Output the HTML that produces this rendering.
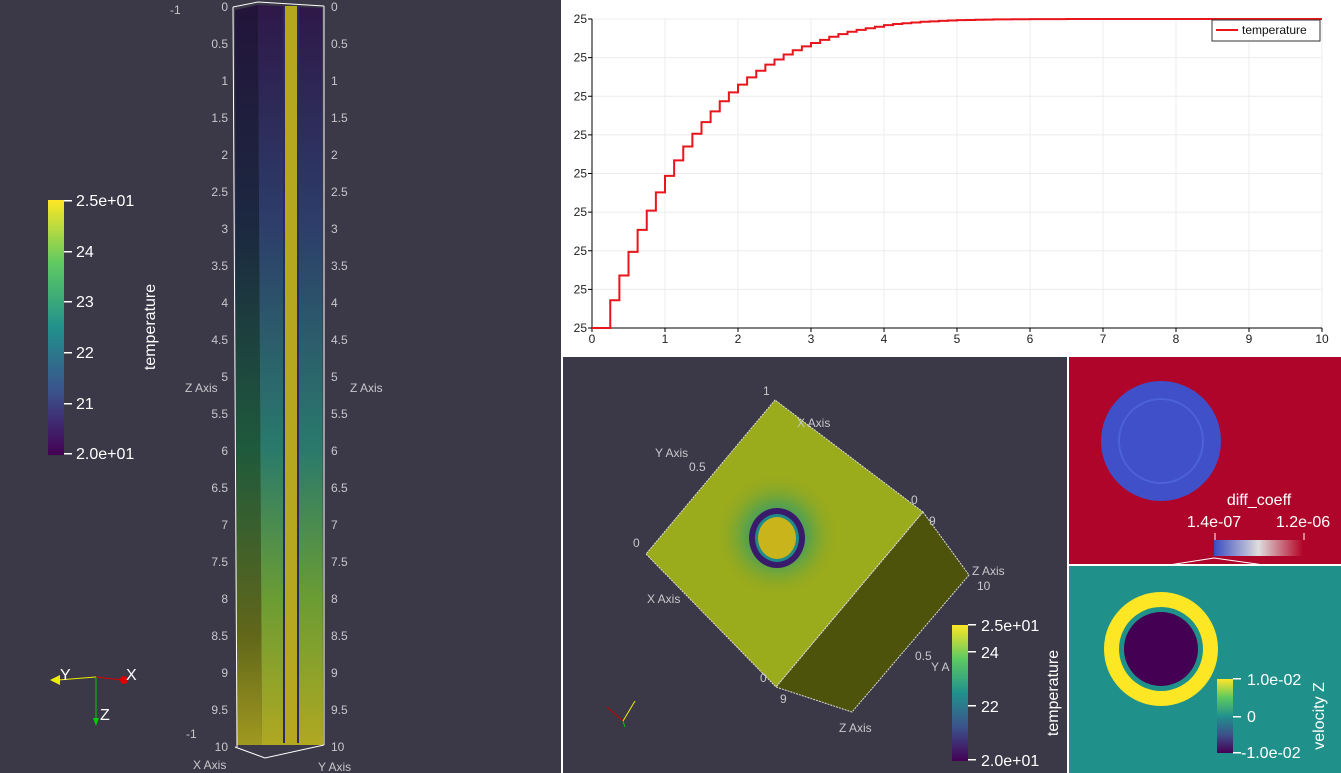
<!DOCTYPE html>
<html><head><meta charset="utf-8"><style>
body{margin:0;width:1341px;height:773px;overflow:hidden;background:#3b3847;font-family:"Liberation Sans",sans-serif;position:relative}
div,svg{position:absolute}
.t{fill:#c8c8cc;font-size:12px;font-family:"Liberation Sans",sans-serif}
.w{fill:#fff;font-size:16px;font-family:"Liberation Sans",sans-serif}
</style></head><body>
<svg style="left:0;top:0" width="561" height="773">
<defs>
<linearGradient id="vir" x1="0" y1="1" x2="0" y2="0"><stop offset="0" stop-color="#440154"/><stop offset=".25" stop-color="#3b528b"/><stop offset=".5" stop-color="#21918c"/><stop offset=".75" stop-color="#5ec962"/><stop offset="1" stop-color="#fde725"/></linearGradient>
<linearGradient id="col" x1="0" y1="0" x2="0" y2="1"><stop offset="0" stop-color="#2e1848"/><stop offset=".3" stop-color="#2d3e6a"/><stop offset=".6" stop-color="#2a7a6c"/><stop offset=".8" stop-color="#6a9c34"/><stop offset="1" stop-color="#b0a821"/></linearGradient>
<linearGradient id="colL" x1="0" y1="0" x2="0" y2="1"><stop offset="0" stop-color="#22143a"/><stop offset=".3" stop-color="#1c2840"/><stop offset=".6" stop-color="#1e5a3c"/><stop offset=".85" stop-color="#60661a"/><stop offset="1" stop-color="#a09820"/></linearGradient>
</defs>
<rect x="48" y="200" width="16" height="255" fill="url(#vir)"/>
<g id="lcb"></g>
<text class="w" transform="translate(155,327) rotate(-90)" text-anchor="middle">temperature</text>
<polygon points="235,10 258,5 262,745 237,745" fill="url(#colL)"/>
<polygon points="258,5 322,8 323,745 262,745" fill="url(#col)"/>
<rect x="283" y="6" width="2" height="737" fill="#2a2a6a"/><rect x="297" y="6" width="2" height="737" fill="#2a2a6a"/>
<rect x="285" y="6" width="12" height="737" fill="#b5a820"/>
<polyline points="233,7 258,2 324,6" stroke="#fff" fill="none"/>
<polyline points="235,747 265,758 324,745" stroke="#fff" fill="none"/>
<line x1="233" y1="7" x2="237" y2="747" stroke="#fff"/><line x1="324" y1="6" x2="324" y2="745" stroke="#fff"/>
<g id="zt"></g>
<text class="t" x="185" y="392">Z Axis</text><text class="t" x="350" y="392">Z Axis</text>
<text class="t" x="170" y="14">-1</text><text class="t" x="186" y="738">-1</text>
<text class="t" x="193" y="769">X Axis</text><text class="t" x="318" y="771">Y Axis</text>
<g>
<line x1="96" y1="677" x2="58" y2="680" stroke="#ee0"/><polygon points="50,680 60,675 60,685" fill="#ee0"/>
<line x1="96" y1="677" x2="122" y2="680" stroke="#d00"/><circle cx="124" cy="680" r="4" fill="#d00"/>
<line x1="96" y1="677" x2="96" y2="720" stroke="#0c0"/><polygon points="93,718 99,718 96,726" fill="#0c0"/>
<text class="w" x="60" y="680" font-size="14">Y</text><text class="w" x="126" y="680" font-size="14">X</text><text class="w" x="100" y="720" font-size="14">Z</text></g>
</svg>
<div style="left:561px;top:0;width:2px;height:773px;background:#fff"></div>
<svg style="left:563px;top:0;background:#fff" width="778" height="355" id="chart"></svg>
<div style="left:563px;top:355px;width:778px;height:2px;background:#fff"></div>
<svg style="left:563px;top:357px" width="504" height="416">
<defs><radialGradient id="halo" cx="0.5" cy="0.5" r="0.5"><stop offset="0" stop-color="#21918c"/><stop offset=".5" stop-color="#5aa24a"/><stop offset="1" stop-color="#9aab1c" stop-opacity="0"/></radialGradient>
<linearGradient id="vir2" x1="0" y1="1" x2="0" y2="0"><stop offset="0" stop-color="#440154"/><stop offset=".25" stop-color="#3b528b"/><stop offset=".5" stop-color="#21918c"/><stop offset=".75" stop-color="#5ec962"/><stop offset="1" stop-color="#fde725"/></linearGradient></defs>
<polygon points="212,43 83,197 213,330 360,155" fill="#9aab1c" stroke="#ddd" stroke-dasharray="2 1"/>
<polygon points="360,155 406,218 289,355 213,330" fill="#4e530c" stroke="#ddd" stroke-dasharray="2 1"/>
<circle cx="214" cy="178" r="62" fill="url(#halo)"/>
<ellipse cx="214" cy="181" rx="28" ry="30" fill="#3a1a6a"/>
<ellipse cx="214" cy="181" rx="22" ry="24" fill="#1f8a8a"/><ellipse cx="214" cy="181" rx="19" ry="21" fill="#c9b41c"/>
<text class="t" x="200" y="38">1</text><text class="t" x="234" y="70">X Axis</text><text class="t" x="92" y="100">Y Axis</text><text class="t" x="126" y="114">0.5</text>
<text class="t" x="70" y="190">0</text><text class="t" x="84" y="246">X Axis</text><text class="t" x="348" y="147">0</text><text class="t" x="366" y="168">9</text>
<text class="t" x="409" y="218">Z Axis</text><text class="t" x="414" y="233">10</text><text class="t" x="352" y="303">0.5</text><text class="t" x="368" y="314">Y A</text>
<text class="t" x="197" y="325">0</text><text class="t" x="217" y="346">9</text><text class="t" x="276" y="375">Z Axis</text>
<rect x="389" y="268" width="16" height="136" fill="url(#vir2)"/>
<g fill="#fff"><rect x="405" y="267" width="8" height="1.5"/><rect x="405" y="294" width="8" height="1.5"/><rect x="405" y="348" width="8" height="1.5"/><rect x="405" y="402" width="8" height="1.5"/></g>
<text class="w" x="418" y="274">2.5e+01</text><text class="w" x="418" y="301">24</text><text class="w" x="418" y="355">22</text><text class="w" x="418" y="409">2.0e+01</text>
<text class="w" transform="translate(495,336) rotate(-90)" text-anchor="middle">temperature</text>
<g><line x1="60" y1="364" x2="44" y2="350" stroke="#c00"/><line x1="60" y1="364" x2="72" y2="344" stroke="#ee0"/><line x1="60" y1="364" x2="62" y2="370" stroke="#0c0"/></g>
</svg>
<div style="left:1067px;top:357px;width:2px;height:416px;background:#fff"></div>
<svg style="left:1069px;top:357px" width="272" height="208">
<defs><linearGradient id="cw"><stop offset="0" stop-color="#3b4cc0"/><stop offset=".5" stop-color="#dddddd"/><stop offset="1" stop-color="#b40426"/></linearGradient></defs>
<rect width="272" height="208" fill="#b0052a"/>
<circle cx="92" cy="84" r="60" fill="#3f50c8"/>
<circle cx="92" cy="84" r="42" fill="none" stroke="#4c62d6" stroke-width="2"/>
<text class="w" x="190" y="148" text-anchor="middle">diff_coeff</text>
<text class="w" x="145" y="170" text-anchor="middle">1.4e-07</text><text class="w" x="234" y="170" text-anchor="middle">1.2e-06</text>
<rect x="145" y="183" width="89" height="16" fill="url(#cw)"/>
<line x1="146" y1="176" x2="146" y2="183" stroke="#fff"/><line x1="235" y1="176" x2="235" y2="183" stroke="#fff"/>
<polyline points="100,208 145,201 195,208" stroke="#fff" fill="none"/>
</svg>
<div style="left:1069px;top:564px;width:272px;height:2px;background:#fff"></div>
<svg style="left:1069px;top:566px" width="272" height="207">
<defs><linearGradient id="vir3" x1="0" y1="1" x2="0" y2="0"><stop offset="0" stop-color="#440154"/><stop offset=".25" stop-color="#3b528b"/><stop offset=".5" stop-color="#21918c"/><stop offset=".75" stop-color="#5ec962"/><stop offset="1" stop-color="#fde725"/></linearGradient></defs>
<rect width="272" height="207" fill="#20918a"/>
<ellipse cx="92" cy="83" rx="57" ry="57" fill="#fde725"/>
<circle cx="92" cy="83" r="42" fill="#20918a"/><circle cx="92" cy="83" r="37" fill="#440154"/>
<rect x="148" y="113" width="16" height="74" fill="url(#vir3)"/>
<g fill="#fff"><rect x="164" y="112" width="8" height="1.5"/><rect x="164" y="150" width="8" height="1.5"/><rect x="164" y="186" width="8" height="1.5"/></g>
<text class="w" x="178" y="119">1.0e-02</text><text class="w" x="178" y="156">0</text><text class="w" x="172" y="192">-1.0e-02</text>
<text class="w" transform="translate(255,150) rotate(-90)" text-anchor="middle">velocity Z</text>
</svg>
<script>
// left colorbar + z ticks
const cbLabels=["2.5e+01","24","23","22","21","2.0e+01"];
const cbY=[200,251,301,352,403,453];
const zTicks=["0","0.5","1","1.5","2","2.5","3","3.5","4","4.5","5","5.5","6","6.5","7","7.5","8","8.5","9","9.5","10"];
(function(){
 const ns="http://www.w3.org/2000/svg";
 const g=document.getElementById('lcb');
 cbLabels.forEach((l,i)=>{
  const r=document.createElementNS(ns,'rect');r.setAttribute('x',64);r.setAttribute('y',cbY[i]);r.setAttribute('width',8);r.setAttribute('height',1.5);r.setAttribute('fill','#fff');
  
  
  g.appendChild(r);
  const t=document.createElementNS(ns,'text');t.setAttribute('class','w');t.setAttribute('x',76);t.setAttribute('y',cbY[i]+6);t.textContent=l;
  
  
  g.appendChild(t);
 });
 const z=document.getElementById('zt');
 zTicks.forEach((l,i)=>{
  const y=7+i*37;
  const a=document.createElementNS(ns,'text');a.setAttribute('class','t');a.setAttribute('x',228);a.setAttribute('y',y+4);a.setAttribute('text-anchor','end');a.textContent=l;
  
  
  z.appendChild(a);
  const b=document.createElementNS(ns,'text');b.setAttribute('class','t');b.setAttribute('x',331);b.setAttribute('y',y+4);b.textContent=l;
  
  
  z.appendChild(b);
 });
})();
</script>
<script>
// chart data
const stepDt=0.125;
const tempValues=[0,0,0.72,1.36,1.97,2.54,3.04,3.51,3.94,4.34,4.70,5.03,5.33,5.61,5.87,6.10,6.30,6.49,6.66,6.82,6.95,7.08,7.19,7.29,7.38,7.46,7.54,7.61,7.67,7.72,7.76,7.80,7.84,7.87,7.89,7.91,7.93,7.94,7.95,7.96,7.97,7.975,7.98,7.985,7.99,7.99,7.993,7.995,7.996,7.997,7.998,7.998,7.999,7.999,8,8,8,8,8,8,8,8,8,8,8,8,8,8,8,8,8,8,8,8,8,8,8,8,8,8,8];
const xTicks=[0,1,2,3,4,5,6,7,8,9,10];
const yTicks=[0,1,2,3,4,5,6,7,8];
const yTickLabels=["25","25","25","25","25","25","25","25","25"];
(function(){
 const ns="http://www.w3.org/2000/svg",s=document.getElementById('chart');
 const L=29,R=759,T=19,B=328;
 const X=v=>L+v/10*(R-L), Y=v=>B-v/8*(B-T);
 function el(n,a){const e=document.createElementNS(ns,n);for(const k in a)e.setAttribute(k,a[k]);s.appendChild(e);return e;}
 xTicks.forEach(v=>{const g=el('line',{x1:X(v),x2:X(v),y1:T,y2:B,stroke:'#ececec'});
  
  
  const t=el('text',{x:X(v),y:B+15,'text-anchor':'middle','font-size':12,fill:'#222'});t.textContent=v;
  
  
  el('line',{x1:X(v),x2:X(v),y1:B,y2:B+4,stroke:'#000'});});
 yTicks.forEach((v,i)=>{const g=el('line',{x1:L,x2:R,y1:Y(v),y2:Y(v),stroke:'#ececec'});
  
  
  const t=el('text',{x:L-5,y:Y(v)+4,'text-anchor':'end','font-size':12,fill:'#222'});t.textContent=yTickLabels[i];
  
  
  el('line',{x1:L-4,x2:L,y1:Y(v),y2:Y(v),stroke:'#000'});});
 el('line',{x1:L,x2:L,y1:T,y2:B,stroke:'#000'});el('line',{x1:L,x2:R,y1:B,y2:B,stroke:'#000'});
 let d='';tempValues.forEach((v,i)=>{const x0=X(i*stepDt),x1=X(Math.min((i+1)*stepDt,10));d+=(i?'L':'M')+x0+','+Y(v)+'L'+x1+','+Y(v);});
 const p=el('path',{d:d,fill:'none',stroke:'#e8151b','stroke-width':2});
 
 
 const lg=el('rect',{x:649,y:20,width:108,height:21,fill:'#fff',stroke:'#333'});
 
 
 el('line',{x1:653,x2:675,y1:30,y2:30,stroke:'#e8151b','stroke-width':2});
 const lt=el('text',{x:679,y:34,'font-size':12,fill:'#111'});lt.textContent='temperature';
 
 
})();
</script>
</body></html>
